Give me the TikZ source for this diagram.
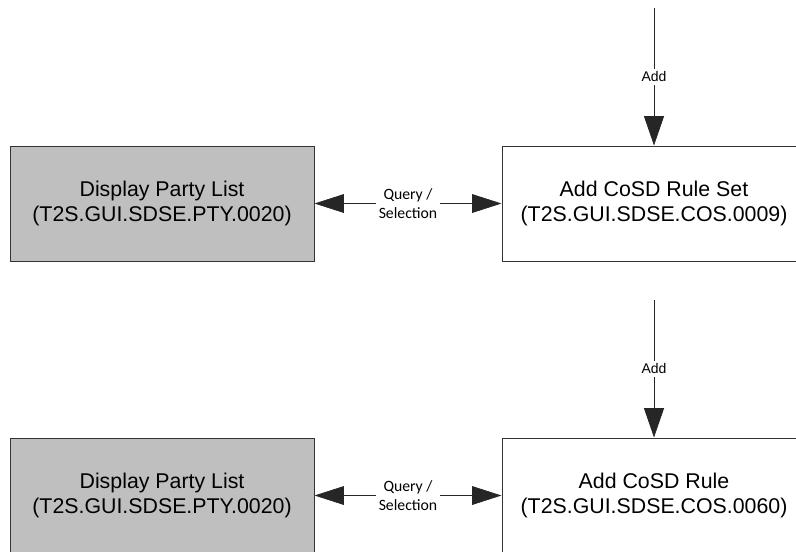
\documentclass[tikz,border=0pt]{standalone}
\usepackage{fontspec}
\setmainfont{Liberation Sans}
\newfontfamily\labelfont{Carlito}
\usetikzlibrary{arrows.meta,positioning}

\tikzset{
    screen/.style={draw=black!80, line width=0.75pt, minimum width=228pt, minimum height=86.25pt,
        align=center, font=\fontsize{16}{18.75}\selectfont},
    greyscreen/.style={screen, fill=black!25},
    flow/.style={draw=black!85, line width=0.6pt, -{Triangle[length=22pt,width=15pt]}},
    biflow/.style={flow, {Triangle[length=22pt,width=14pt]}-{Triangle[length=22pt,width=14pt]}},
    querylabel/.style={fill=white, align=center, inner sep=2pt, font=\labelfont\fontsize{11.8}{14}\selectfont},
    addlabel/.style={fill=white, inner sep=2pt, font=\fontsize{10.5}{12}\selectfont}
}

\begin{document}
\begin{tikzpicture}[x=0.75pt, y=-0.75pt]
\useasboundingbox (0,0) rectangle (796,551);

% Rule set
\node[greyscreen] (party1) at (162,203.5) {Display Party List\\(T2S.GUI.SDSE.PTY.0020)};
\node[screen] (ruleset) at (654,203.5) {Add CoSD Rule Set\\(T2S.GUI.SDSE.COS.0009)};
\coordinate (in1) at (654,8);
\draw[biflow] (party1) -- node[querylabel] {Query /\\Selection} (ruleset);
\draw[flow] (in1) -- node[addlabel] {Add} (ruleset);

% Rule
\node[greyscreen] (party2) at (162,495.5) {Display Party List\\(T2S.GUI.SDSE.PTY.0020)};
\node[screen] (rule) at (654,495.5) {Add CoSD Rule\\(T2S.GUI.SDSE.COS.0060)};
\coordinate (in2) at (654,300);
\draw[biflow] (party2) -- node[querylabel] {Query /\\Selection} (rule);
\draw[flow] (in2) -- node[addlabel] {Add} (rule);

\end{tikzpicture}
\end{document}
